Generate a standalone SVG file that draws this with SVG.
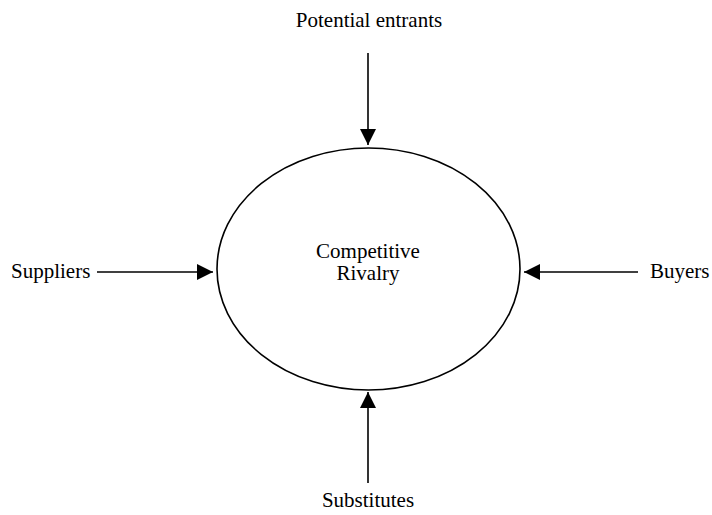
<svg xmlns="http://www.w3.org/2000/svg" width="712" height="515" viewBox="0 0 712 515">
<style>
text{font-family:"Liberation Serif","Times New Roman",serif;font-size:21px;fill:#000}
.c{stroke:#000;stroke-width:1.6;fill:none}
</style>
<defs>
<marker id="ah" markerWidth="16" markerHeight="16" viewBox="0 0 16 16" refX="16" refY="8" orient="auto" markerUnits="userSpaceOnUse">
<path d="M0,0 L16,8 L0,16 Z" fill="#000"/>
</marker>
</defs>
<rect width="712" height="515" fill="#fff"/>
<g id="rivalry">
<ellipse cx="368.5" cy="269" rx="151.5" ry="121" fill="none" stroke="#000" stroke-width="1.6"/>
<text x="368" y="258" text-anchor="middle">Competitive</text>
<text x="368" y="280" text-anchor="middle">Rivalry</text>
</g>
<g id="entrants"><text x="369" y="27" text-anchor="middle">Potential entrants</text></g>
<g id="suppliers"><text x="11" y="278">Suppliers</text></g>
<g id="buyers"><text x="650" y="278">Buyers</text></g>
<g id="substitutes"><text x="368" y="507" text-anchor="middle">Substitutes</text></g>
<g id="connectors">
<line class="c" x1="368" y1="53" x2="368" y2="145" marker-end="url(#ah)"/>
<line class="c" x1="97" y1="272" x2="213" y2="272" marker-end="url(#ah)"/>
<line class="c" x1="638" y1="272" x2="524" y2="272" marker-end="url(#ah)"/>
<line class="c" x1="368" y1="483" x2="368" y2="392" marker-end="url(#ah)"/>
</g>
</svg>
